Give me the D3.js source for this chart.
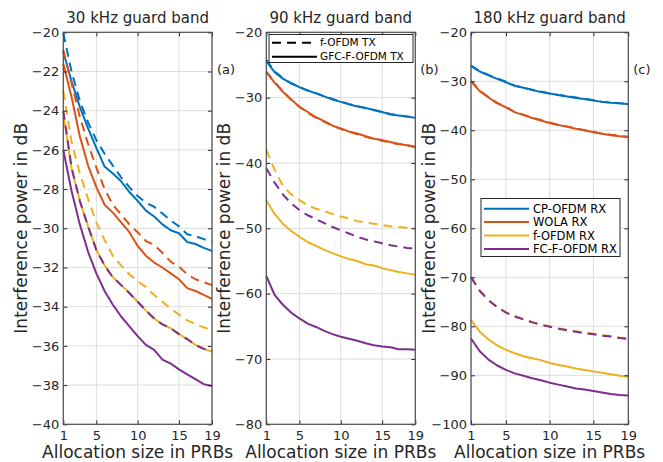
<!DOCTYPE html>
<meta charset="utf-8">
<style>
body { margin: 0; background: #fff; }
text { font-family: "DejaVu Sans", sans-serif; fill: #262626; }
.tick text { font-size: 13px; }
.tick line { stroke: #262626; }
.grid line { stroke: #dcdcdc; stroke-width: 1; }
.frame { fill: none; stroke: #4d4d4d; stroke-width: 1.2; }
.series { fill: none; stroke-width: 2; stroke-linejoin: round; }
.legend rect { fill: #fff; stroke: #262626; stroke-width: 1; }
.legend text { fill: #000; }
</style>
<body>
<script src="https://cdn.jsdelivr.net/npm/d3@7"></script>
<script>

var prbs = [1, 2, 3, 4, 5, 6, 7, 8, 9, 10, 11, 12, 13, 14, 15, 16, 17, 18, 19];
var xTickVals = [1, 5, 10, 15, 19];
var titles = ["30 kHz guard band", "90 kHz guard band", "180 kHz guard band"];
var tags = ["(a)", "(b)", "(c)"];
var yDomains = [[-40, -20], [-80, -20], [-100, -20]];
var yTicks30 = [-40, -38, -36, -34, -32, -30, -28, -26, -24, -22, -20];
var yTicks90 = [-80, -70, -60, -50, -40, -30, -20];
var yTicks180 = [-100, -90, -80, -70, -60, -50, -40, -30, -20];
var rxNames = ["CP-OFDM RX", "WOLA RX", "f-OFDM RX", "FC-F-OFDM RX"];
var txNames = ["f-OFDM TX", "GFC-F-OFDM TX"];
var rxColors = ["#0072BD", "#D95319", "#EDB120", "#7E2F8E"];

// 30 kHz guard band, _f = f-OFDM TX (dashed), _g = GFC-F-OFDM TX (solid)
var cp30_f = [-20.05, -22.0, -23.5, -24.6, -25.5, -26.2, -26.8, -27.4, -27.9, -28.35, -28.7, -28.9, -29.25, -29.6, -29.9, -30.3, -30.4, -30.55, -30.7];
var cp30_g = [-21.0, -22.5, -23.8, -24.9, -25.9, -26.85, -27.2, -27.6, -28.15, -28.6, -29.1, -29.4, -29.8, -30.1, -30.25, -30.7, -30.8, -31.0, -31.15];
var wola30_f = [-20.9, -22.6, -24.3, -25.7, -26.9, -28.0, -28.8, -29.3, -29.8, -30.2, -30.65, -30.85, -31.25, -31.7, -31.95, -32.35, -32.6, -32.75, -32.9];
var wola30_g = [-21.6, -23.3, -25.3, -26.8, -27.9, -28.8, -29.2, -29.7, -30.2, -30.9, -31.4, -31.75, -32.0, -32.3, -32.6, -33.05, -33.2, -33.4, -33.6];
var fofdm30_f = [-23.0, -25.6, -27.2, -28.5, -29.7, -30.6, -31.4, -31.9, -32.35, -32.7, -33.0, -33.4, -33.75, -34.1, -34.4, -34.7, -34.9, -35.05, -35.2];
var fofdm30_g = [-24.1, -26.95, -28.6, -29.9, -31.1, -31.9, -32.5, -32.9, -33.3, -33.75, -34.2, -34.6, -34.9, -35.1, -35.4, -35.65, -35.95, -36.15, -36.3];
var fc30_f = [-24.0, -26.9, -28.6, -29.9, -31.1, -31.9, -32.5, -32.9, -33.3, -33.75, -34.2, -34.6, -34.9, -35.1, -35.4, -35.65, -35.95, -36.15, -36.25];
var fc30_g = [-26.0, -28.1, -29.8, -31.2, -32.3, -33.2, -33.9, -34.5, -35.0, -35.5, -35.95, -36.2, -36.7, -36.9, -37.2, -37.45, -37.7, -37.95, -38.05];

// 90 kHz guard band
var cp90_f = [-24.2, -26.0, -27.0, -27.8, -28.4, -28.9, -29.3, -29.8, -30.2, -30.6, -31.0, -31.3, -31.6, -31.9, -32.2, -32.5, -32.7, -32.9, -33.0];
var cp90_g = [-24.4, -26.1, -27.1, -27.8, -28.4, -28.9, -29.35, -29.8, -30.3, -30.65, -31.0, -31.35, -31.6, -31.9, -32.2, -32.6, -32.75, -32.9, -33.1];
var wola90_f = [-26.0, -27.6, -29.0, -30.3, -31.4, -32.3, -33.1, -33.7, -34.3, -34.8, -35.2, -35.6, -36.0, -36.3, -36.6, -36.9, -37.1, -37.3, -37.6];
var wola90_g = [-26.1, -27.7, -29.1, -30.3, -31.4, -32.2, -33.0, -33.6, -34.3, -34.7, -35.2, -35.5, -35.9, -36.3, -36.5, -36.8, -37.1, -37.3, -37.5];
var fofdm90_f = [-38.0, -41.0, -43.5, -44.8, -45.7, -46.5, -47.0, -47.4, -47.8, -48.2, -48.5, -48.9, -49.1, -49.3, -49.5, -49.7, -49.8, -49.9, -50.0];
var fofdm90_g = [-45.7, -47.8, -49.3, -50.4, -51.3, -52.1, -52.7, -53.3, -53.8, -54.3, -54.7, -55.0, -55.5, -55.7, -56.1, -56.4, -56.7, -56.9, -57.1];
var fc90_f = [-40.8, -43.0, -44.8, -46.2, -47.2, -48.0, -48.6, -49.2, -49.8, -50.3, -50.8, -51.3, -51.7, -52.0, -52.3, -52.6, -52.8, -53.0, -53.1];
var fc90_g = [-57.3, -60.2, -61.7, -62.9, -63.8, -64.6, -65.1, -65.7, -66.2, -66.6, -66.9, -67.2, -67.6, -67.9, -68.1, -68.2, -68.5, -68.5, -68.6];

// 180 kHz guard band
var cp180_f = [-26.8, -27.9, -28.7, -29.4, -30.1, -30.9, -31.3, -31.7, -32.1, -32.5, -32.8, -33.0, -33.3, -33.6, -33.8, -34.2, -34.3, -34.5, -34.6];
var cp180_g = [-26.9, -28.0, -28.8, -29.5, -30.2, -30.9, -31.3, -31.8, -32.2, -32.5, -32.8, -33.1, -33.4, -33.6, -33.9, -34.2, -34.4, -34.5, -34.7];
var wola180_f = [-29.9, -31.9, -33.2, -34.4, -35.2, -36.3, -36.8, -37.4, -37.9, -38.4, -38.9, -39.2, -39.6, -40.0, -40.3, -40.7, -40.9, -41.1, -41.3];
var wola180_g = [-30.0, -32.0, -33.3, -34.5, -35.3, -36.3, -36.9, -37.5, -38.0, -38.5, -38.9, -39.3, -39.7, -40.0, -40.4, -40.7, -41.0, -41.2, -41.4];
var fofdm180_f = [-69.9, -72.7, -74.6, -76.0, -77.1, -77.9, -78.5, -79.1, -79.6, -80.0, -80.4, -80.7, -81.0, -81.3, -81.5, -81.8, -82.0, -82.3, -82.5];
var fofdm180_g = [-78.7, -81.1, -82.7, -83.9, -84.8, -85.5, -86.1, -86.5, -86.9, -87.5, -87.9, -88.2, -88.6, -88.9, -89.2, -89.5, -89.8, -90.1, -90.3];
var fc180_f = [-70.0, -72.8, -74.7, -76.1, -77.2, -78.0, -78.6, -79.2, -79.7, -80.1, -80.5, -80.8, -81.1, -81.4, -81.6, -81.9, -82.1, -82.4, -82.6];
var fc180_g = [-82.5, -85.1, -86.8, -88.0, -88.9, -89.6, -90.1, -90.6, -91.0, -91.5, -91.9, -92.3, -92.7, -92.9, -93.2, -93.5, -93.8, -94.0, -94.1];

// per panel: one [dashed, solid] pair per receiver, in rxNames order
var panelSeries = [
  [[cp30_f, cp30_g], [wola30_f, wola30_g], [fofdm30_f, fofdm30_g], [fc30_f, fc30_g]],
  [[cp90_f, cp90_g], [wola90_f, wola90_g], [fofdm90_f, fofdm90_g], [fc90_f, fc90_g]],
  [[cp180_f, cp180_g], [wola180_f, wola180_g], [fofdm180_f, fofdm180_g], [fc180_f, fc180_g]]
];
var panelYTicks = [yTicks30, yTicks90, yTicks180];

var WIDTH = 663, HEIGHT = 462;
var TOP = 32.3, BOTTOM = 424.3;
var panelX = [[63.3, 212], [266.3, 415.3], [471, 628.3]];
var DASH = "9,6";

var svg = d3.select("body").append("svg")
    .attr("width", WIDTH)
    .attr("height", HEIGHT);

panelSeries.forEach(function(series, p) {
  var x = d3.scaleLinear().domain([1, 19]).range(panelX[p]);
  var y = d3.scaleLinear().domain(yDomains[p]).range([BOTTOM, TOP]);
  var g = svg.append("g");

  // grid
  var grid = g.append("g").attr("class", "grid");
  grid.selectAll("line.gx").data(xTickVals).enter().append("line")
      .attr("x1", x).attr("x2", x).attr("y1", TOP).attr("y2", BOTTOM);
  grid.selectAll("line.gy").data(panelYTicks[p]).enter().append("line")
      .attr("y1", y).attr("y2", y).attr("x1", panelX[p][0]).attr("x2", panelX[p][1]);

  // data lines, dashed then solid for each receiver
  var line = d3.line()
      .x(function(d, i) { return x(prbs[i]); })
      .y(function(d) { return y(d); });
  series.forEach(function(pair, r) {
    g.append("path").attr("class", "series")
        .attr("d", line(pair[0]))
        .attr("stroke", rxColors[r])
        .attr("stroke-dasharray", DASH);
    g.append("path").attr("class", "series")
        .attr("d", line(pair[1]))
        .attr("stroke", rxColors[r]);
  });

  // axes with inward ticks
  var yl = g.append("g").attr("transform", "translate(" + panelX[p][0] + ",0)")
      .call(d3.axisLeft(y).tickValues(panelYTicks[p]).tickSizeInner(-4).tickSizeOuter(0).tickPadding(4));
  var yr = g.append("g").attr("transform", "translate(" + panelX[p][1] + ",0)")
      .call(d3.axisRight(y).tickValues(panelYTicks[p]).tickSizeInner(-4).tickSizeOuter(0).tickFormat(""));
  var xb = g.append("g").attr("transform", "translate(0," + BOTTOM + ")")
      .call(d3.axisBottom(x).tickValues(xTickVals).tickSizeInner(-4).tickSizeOuter(0).tickPadding(3));
  var xt = g.append("g").attr("transform", "translate(0," + TOP + ")")
      .call(d3.axisTop(x).tickValues(xTickVals).tickSizeInner(-4).tickSizeOuter(0).tickFormat(""));
  [yl, yr, xb, xt].forEach(function(a) {
    a.select(".domain").remove();
    a.attr("font-family", null).attr("font-size", null);
  });
  xb.selectAll(".tick text").attr("dy", "0.95em");

  g.append("rect").attr("class", "frame")
      .attr("x", panelX[p][0]).attr("y", TOP)
      .attr("width", panelX[p][1] - panelX[p][0])
      .attr("height", BOTTOM - TOP);

  // labels
  var cx = (panelX[p][0] + panelX[p][1]) / 2;
  g.append("text").attr("x", cx).attr("y", 23)
      .attr("text-anchor", "middle").style("font-size", "15px")
      .text(titles[p]);
  g.append("text").attr("x", cx).attr("y", 458)
      .attr("text-anchor", "middle").style("font-size", "17px")
      .text("Allocation size in PRBs");
  g.append("text")
      .attr("transform", "translate(" + (panelX[p][0] - 36) + "," + ((TOP + BOTTOM) / 2) + ") rotate(-90)")
      .attr("text-anchor", "middle").style("font-size", "17px")
      .text("Interference power in dB");
  g.append("text").attr("x", panelX[p][1] + 5).attr("y", 74)
      .style("font-size", "13px")
      .text(tags[p]);
});

// legend for transmitters (line style), in middle panel
var lg1 = svg.append("g").attr("class", "legend");
lg1.append("rect").attr("x", 269).attr("y", 34.5).attr("width", 144).attr("height", 28);
txNames.forEach(function(name, i) {
  var yy = 42.7 + i * 14;
  lg1.append("line").attr("x1", 272).attr("x2", 317).attr("y1", yy).attr("y2", yy)
      .attr("stroke", "#000").attr("stroke-width", 2)
      .attr("stroke-dasharray", i === 0 ? DASH : null);
  lg1.append("text").attr("x", 320).attr("y", yy).attr("dy", "0.35em")
      .style("font-size", "10.5px").text(name);
});

// legend for receivers (colour), in right panel
var lg2 = svg.append("g").attr("class", "legend");
lg2.append("rect").attr("x", 481).attr("y", 198.5).attr("width", 139).attr("height", 58);
rxNames.forEach(function(name, i) {
  var yy = 208.7 + i * 13.4;
  lg2.append("line").attr("x1", 484).attr("x2", 529).attr("y1", yy).attr("y2", yy)
      .attr("stroke", rxColors[i]).attr("stroke-width", 2);
  lg2.append("text").attr("x", 533).attr("y", yy).attr("dy", "0.35em")
      .style("font-size", "11.5px").text(name);
});

</script>
